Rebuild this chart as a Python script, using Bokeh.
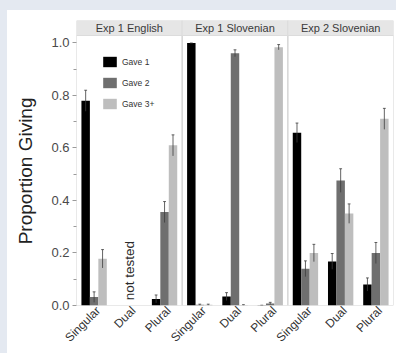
import math
from bokeh.plotting import figure
from bokeh.models import Range1d, FixedTicker, ColumnDataSource, NumeralTickFormatter
from bokeh.embed import file_html
from bokeh.resources import INLINE
from bokeh.core.properties import value

# ---------------- data ----------------
panels = ["Exp 1 English", "Exp 1 Slovenian", "Exp 2 Slovenian"]
numbers = ["Singular", "Dual", "Plural"]
levels = ["Gave 1", "Gave 2", "Gave 3+"]
colors = ["#000000", "#6f6f6f", "#bebebe"]

# order: panel-major, number-minor (None = not tested)
gave1 = [0.78, None, 0.025, 1.0, 0.034, 0.001, 0.658, 0.168, 0.08]
gave1_se = [0.04, None, 0.015, 0.0, 0.015, 0.0, 0.037, 0.03, 0.025]
gave2 = [0.032, None, 0.356, 0.003, 0.961, 0.008, 0.14, 0.476, 0.20]
gave2_se = [0.02, None, 0.04, 0.002, 0.013, 0.004, 0.03, 0.045, 0.04]
gave3 = [0.178, None, 0.61, 0.003, 0.002, 0.984, 0.20, 0.35, 0.711]
gave3_se = [0.035, None, 0.04, 0.002, 0.001, 0.01, 0.033, 0.037, 0.04]
not_tested = [("Exp 1 English", "Dual", "not tested")]

y_ticks = [0.0, 0.2, 0.4, 0.6, 0.8, 1.0]
y_minor = [0.1, 0.3, 0.5, 0.7, 0.9]

# ---------------- layout constants ----------------
PANEL_TOP = 1.0286
STRIP_TOP = 1.0857
BAR_W = 0.24
offsets = [-0.24, 0.0, 0.24]
LABEL_SHIFT = 0.12
FONT = "Liberation Sans"

n_cat = len(panels) * len(numbers)

p = figure(width=396, height=353, output_backend="svg", toolbar_location=None,
           x_range=Range1d(0, n_cat), y_range=Range1d(0, STRIP_TOP),
           min_border_left=76, min_border_right=3, min_border_top=20,
           min_border_bottom=48)
p.background_fill_color = "white"
p.border_fill_alpha = 0
p.styles = {"background": "linear-gradient(#ffffff, #ffffff) 7px 10px / 100% 100% no-repeat, #e4e9f1"}
p.outline_line_color = None
p.xgrid.visible = False
p.ygrid.visible = False

# panel frames and strips
px_left = [i * len(numbers) for i in range(len(panels))]
px_right = [(i + 1) * len(numbers) for i in range(len(panels))]
p.quad(left=px_left, right=px_right, bottom=[0] * len(panels),
       top=[PANEL_TOP] * len(panels), fill_color=None,
       line_color="#d4d4d4", line_width=1)
p.quad(left=px_left, right=px_right, bottom=[PANEL_TOP] * len(panels),
       top=[STRIP_TOP] * len(panels), fill_color="#e6e6e6",
       line_color="#dcdcdc", line_width=1)
p.text(x=[(l + r) / 2 for l, r in zip(px_left, px_right)],
       y=[(PANEL_TOP + STRIP_TOP) / 2] * len(panels), text=panels,
       text_align="center", text_baseline="middle",
       text_font=value(FONT), text_font_size="11px", text_color="#3a3a3a")

# bars + error bars
series = [(gave1, gave1_se), (gave2, gave2_se), (gave3, gave3_se)]
for k, (vals, ses) in enumerate(series):
    xs, tops, los, his = [], [], [], []
    for i, (v, s) in enumerate(zip(vals, ses)):
        if v is None:
            continue
        xs.append(i + 0.5 + offsets[k])
        tops.append(v)
        los.append(max(v - s, 0))
        his.append(v + s)
    src = ColumnDataSource(dict(x=xs, top=tops, lo=los, hi=his))
    p.vbar(x="x", top="top", bottom=0, width=BAR_W, source=src,
           fill_color=colors[k], line_color=None, legend_label=levels[k])
    p.segment(x0="x", x1="x", y0="lo", y1="hi", source=src,
              line_color="#3c3c3c", line_width=0.8)
    src_cap = ColumnDataSource(dict(x0=[x - 0.04 for x in xs],
                                    x1=[x + 0.04 for x in xs], hi=his))
    p.segment(x0="x0", x1="x1", y0="hi", y1="hi", source=src_cap,
              line_color="#3c3c3c", line_width=0.8)

# "not tested" annotation
nt_x = [panels.index(pn) * len(numbers) + numbers.index(nb) + 0.5
        for pn, nb, _ in not_tested]
p.text(x=nt_x, y=[0.02] * len(nt_x), text=[t for _, _, t in not_tested],
       angle=math.pi / 2, text_align="left", text_baseline="middle",
       text_font=value(FONT), text_font_size="13.5px", text_color="#2a2a2a")

# y axis
p.yaxis.ticker = FixedTicker(ticks=y_ticks, minor_ticks=y_minor)
p.yaxis.formatter = NumeralTickFormatter(format="0.0")
p.yaxis.axis_label = "Proportion Giving\u00a0\u00a0\u00a0"
p.yaxis.axis_label_text_font = FONT
p.yaxis.axis_label_text_font_style = "normal"
p.yaxis.axis_label_text_font_size = "19px"
p.yaxis.axis_label_text_color = "#222222"
p.yaxis.axis_label_standoff = 12
p.yaxis.major_label_text_font = FONT
p.yaxis.major_label_text_font_size = "13px"
p.yaxis.major_label_text_color = "#4a4a4a"
p.yaxis.major_label_standoff = 3
p.yaxis.axis_line_color = None
p.yaxis.major_tick_line_color = "#9a9a9a"
p.yaxis.minor_tick_line_color = "#9a9a9a"
p.yaxis.major_tick_out = 4
p.yaxis.major_tick_in = 0
p.yaxis.minor_tick_out = 3
p.yaxis.minor_tick_in = 0

# x axis (rotated category labels)
x_tick_pos = [i + 0.5 + LABEL_SHIFT for i in range(n_cat)]
p.xaxis.ticker = FixedTicker(ticks=x_tick_pos, minor_ticks=[])
p.xaxis.major_label_overrides = {x: numbers[i % len(numbers)]
                                 for i, x in enumerate(x_tick_pos)}
p.xaxis.major_label_orientation = math.pi / 4
p.xaxis.major_label_text_font = FONT
p.xaxis.major_label_text_font_size = "12px"
p.xaxis.major_label_text_color = "#333333"
p.xaxis.major_label_standoff = 3
p.xaxis.axis_line_color = None
p.xaxis.major_tick_line_color = None
p.xaxis.major_tick_out = 0
p.xaxis.major_tick_in = 0

# legend
lg = p.legend[0]
lg.location = (25, 195)
lg.background_fill_alpha = 0
lg.border_line_color = None
lg.padding = 0
lg.margin = 0
lg.spacing = 8
lg.glyph_width = 17
lg.glyph_height = 13
lg.label_height = 13
lg.label_standoff = 4
lg.label_text_font = FONT
lg.label_text_font_size = "8.5px"
lg.label_text_color = "#333333"

open("out.html", "w").write(file_html(p, INLINE))
